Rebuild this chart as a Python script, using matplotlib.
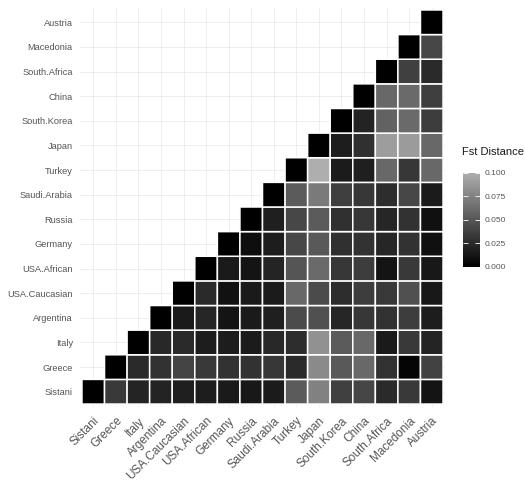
import numpy as np
import matplotlib
matplotlib.use("Agg")
import matplotlib.pyplot as plt
from matplotlib.colors import LinearSegmentedColormap

populations = ["Sistani", "Greece", "Italy", "Argentina", "USA.Caucasian", "USA.African",
               "Germany", "Russia", "Saudi.Arabia", "Turkey", "Japan", "South.Korea",
               "China", "South.Africa", "Macedonia", "Austria"]

# Fst distance of each population to the populations listed after it
fst_sistani = [0.033, 0.021, 0.020, 0.018, 0.017, 0.015, 0.014, 0.016, 0.052, 0.074, 0.037, 0.040, 0.024, 0.033, 0.012]
fst_greece = [0.024, 0.029, 0.039, 0.033, 0.029, 0.029, 0.032, 0.024, 0.079, 0.051, 0.060, 0.029, 0.003, 0.038]
fst_italy = [0.023, 0.024, 0.017, 0.017, 0.016, 0.023, 0.026, 0.083, 0.052, 0.060, 0.015, 0.033, 0.021]
fst_argentina = [0.015, 0.022, 0.012, 0.015, 0.018, 0.043, 0.046, 0.022, 0.032, 0.029, 0.035, 0.017]
fst_usa_caucasian = [0.024, 0.010, 0.015, 0.016, 0.060, 0.043, 0.026, 0.035, 0.033, 0.046, 0.014]
fst_usa_african = [0.015, 0.012, 0.021, 0.049, 0.061, 0.032, 0.035, 0.012, 0.033, 0.014]
fst_germany = [0.008, 0.017, 0.041, 0.051, 0.028, 0.029, 0.022, 0.029, 0.009]
fst_russia = [0.018, 0.041, 0.052, 0.028, 0.032, 0.022, 0.029, 0.009]
fst_saudi_arabia = [0.052, 0.070, 0.036, 0.032, 0.026, 0.041, 0.016]
fst_turkey = [0.100, 0.016, 0.018, 0.060, 0.032, 0.060]
fst_japan = [0.017, 0.028, 0.090, 0.089, 0.060]
fst_south_korea = [0.020, 0.056, 0.061, 0.035]
fst_china = [0.060, 0.061, 0.036]
fst_south_africa = [0.037, 0.024]
fst_macedonia = [0.041]
fst_austria = []

rows = [fst_sistani, fst_greece, fst_italy, fst_argentina, fst_usa_caucasian, fst_usa_african,
        fst_germany, fst_russia, fst_saudi_arabia, fst_turkey, fst_japan, fst_south_korea,
        fst_china, fst_south_africa, fst_macedonia, fst_austria]

legend_ticks = [0.000, 0.025, 0.050, 0.075, 0.100]

n = len(populations)
mat = np.full((n, n), np.nan)
for r, vals in enumerate(rows):
    mat[r, r] = 0.0
    for k, v in enumerate(vals):
        mat[r, r + 1 + k] = v
masked = np.ma.masked_invalid(mat)

plt.rcParams['font.family'] = ['Liberation Sans', 'DejaVu Sans']

W, H = 525, 491
fig = plt.figure(figsize=(W / 100, H / 100), dpi=100)
ax = fig.add_axes([79.7 / W, 1 - 406.5 / H, 365.6 / W, 399 / H])

cmap = LinearSegmentedColormap.from_list("fst", ["#000000", "#aeaeae"])
edges = np.arange(n + 1) - 0.5
mesh = ax.pcolor(edges, edges, masked, cmap=cmap, vmin=0, vmax=0.1,
                 edgecolors="white", linewidth=1.1)

ax.set_xlim(-0.6, n - 0.4)
ax.set_ylim(-0.6, n - 0.4)
ax.set_xticks(range(n))
ax.set_yticks(range(n))
ax.set_xticklabels(populations, rotation=45, ha="right", va="top",
                   rotation_mode="anchor", fontsize=8.5, color="#555555")
ax.set_yticklabels(populations, fontsize=6.7, color="#555555")
ax.tick_params(axis="both", length=0)
ax.tick_params(axis="x", pad=6)
ax.tick_params(axis="y", pad=5)
ax.grid(True, color="#ebebeb", linewidth=0.6)
ax.set_axisbelow(True)
for s in ax.spines.values():
    s.set_visible(False)

cax = fig.add_axes([463 / W, 1 - 266.7 / H, 17 / W, 94 / H])
cb = fig.colorbar(mesh, cax=cax, ticks=legend_ticks)
cb.outline.set_visible(False)
cb.ax.set_yticklabels([f"{t:.3f}" for t in legend_ticks], fontsize=6, color="#555555")
cax.yaxis.set_ticks_position("both")
cax.tick_params(axis="y", direction="in", color="white", length=3.5, width=0.6,
                labelleft=False, labelright=True, pad=3)
fig.text(462 / W, 1 - 152 / H, "Fst Distance", fontsize=8, ha="left", va="center", color="#1a1a1a")

fig.savefig("out.png", dpi=100)
